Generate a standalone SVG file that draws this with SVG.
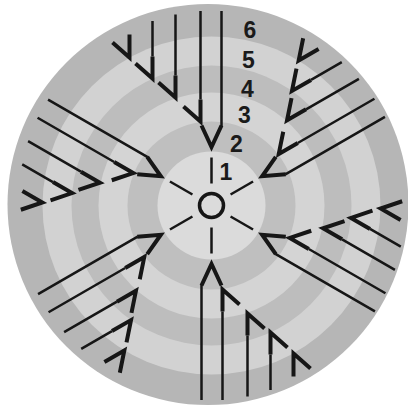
<svg xmlns="http://www.w3.org/2000/svg" width="408" height="410" viewBox="0 0 408 410">
<style>
.thin{fill:none;stroke:#161616;stroke-width:2.5}
.thick{fill:none;stroke:#161616;stroke-width:4;stroke-linejoin:miter}
.lbl{font-family:"Liberation Sans",Arial,sans-serif;font-weight:bold;font-size:23px;fill:#1a1a1a;text-anchor:middle}
</style>
<defs>
<g id="fan">
<line class="thin" x1="0" y1="22" x2="0" y2="48"/>
<path class="thin" d="M-10,79.5 V194.5 M11,106 V194.5 M36,130 V191 M59,149 V184.5"/>
<path class="thick" d="M-10,80 L0,58.5 L10,80"/>
<path class="thick" d="M11,106 V84 L28,99 M36,130 V108 L53,123 M59,149 V127 L76,142 M82,171 V148 L99,163"/>
</g>
</defs>
<rect width="408" height="410" fill="#ffffff"/>
<g id="rings">
<circle cx="208" cy="204.5" r="200.5" fill="#b6b6b6"/>
<circle cx="211.5" cy="205.5" r="169" fill="#d2d2d2"/>
<circle cx="211.5" cy="205.5" r="140" fill="#bdbdbd"/>
<circle cx="211.5" cy="205.5" r="113" fill="#d4d4d4"/>
<circle cx="211.5" cy="205.5" r="84" fill="#bfbfbf"/>
<circle cx="211.5" cy="205.5" r="54" fill="#dbdbdb"/>
</g>
<g id="arrows" transform="translate(211.5,205.5)">
<use href="#fan"/>
<use href="#fan" transform="rotate(60)"/>
<use href="#fan" transform="rotate(120)"/>
<use href="#fan" transform="rotate(180)"/>
<use href="#fan" transform="rotate(240)"/>
<use href="#fan" transform="rotate(300)"/>
<circle cx="0" cy="0" r="12" fill="none" stroke="#161616" stroke-width="3.5"/>
</g>
<g id="labels">
<text class="lbl" x="250" y="38">6</text>
<text class="lbl" x="248.5" y="68">5</text>
<text class="lbl" x="247.5" y="97">4</text>
<text class="lbl" x="244.5" y="123">3</text>
<text class="lbl" x="236.5" y="152">2</text>
<text class="lbl" x="226" y="180">1</text>
</g>
</svg>
